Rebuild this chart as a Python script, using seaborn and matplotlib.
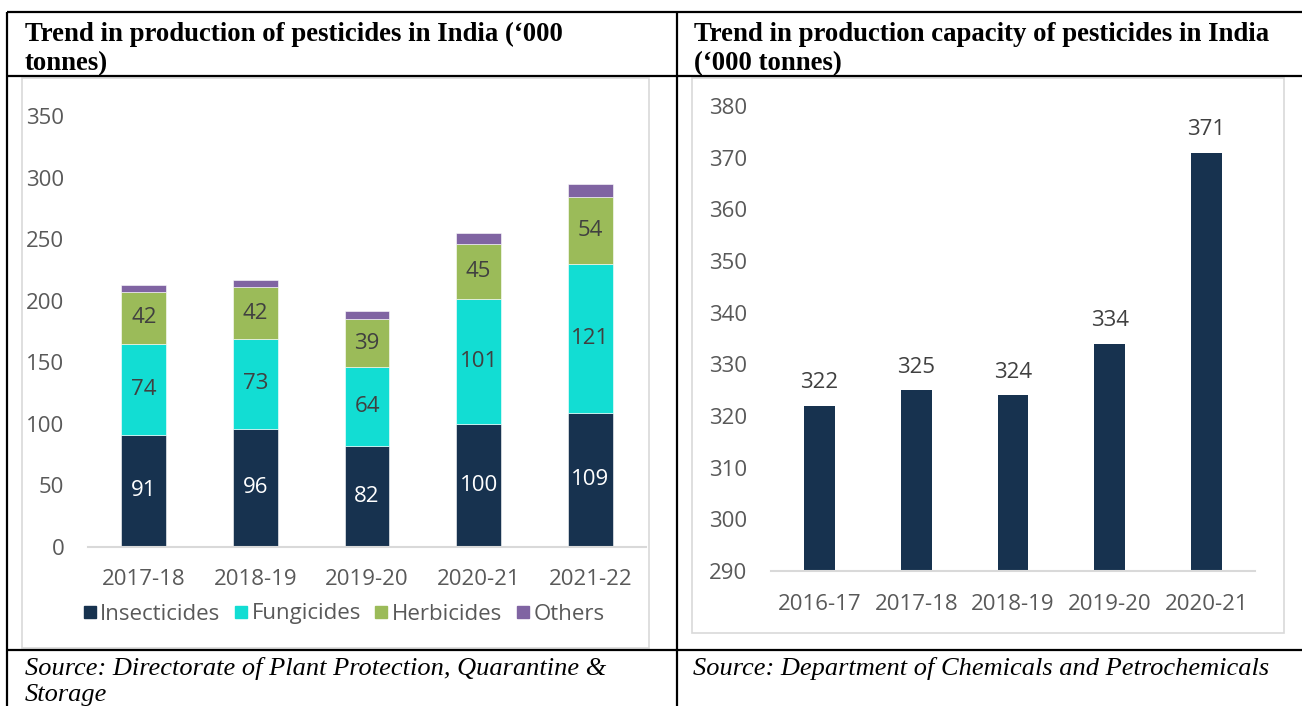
import matplotlib
matplotlib.use("Agg")
import matplotlib.pyplot as plt
import seaborn as sns
import pandas as pd
import numpy as np
from matplotlib.lines import Line2D
from matplotlib.patches import Rectangle

# ---------------- data ----------------
years_prod = ["2017-18", "2018-19", "2019-20", "2020-21", "2021-22"]
insecticides = [91, 96, 82, 100, 109]
fungicides = [74, 73, 64, 101, 121]
herbicides = [42, 42, 39, 45, 54]
others = [6, 6, 7, 9, 11]
series_names = ["Insecticides", "Fungicides", "Herbicides", "Others"]
prod_ticks = [0, 50, 100, 150, 200, 250, 300, 350]

years_cap = ["2016-17", "2017-18", "2018-19", "2019-20", "2020-21"]
capacity = [322, 325, 324, 334, 371]
cap_ticks = [290, 300, 310, 320, 330, 340, 350, 360, 370, 380]

title_left = ["Trend in production of pesticides in India (\u2018000", "tonnes)"]
title_right = ["Trend in production capacity of pesticides in India", "(\u2018000 tonnes)"]
source_left = ["Source: Directorate of Plant Protection, Quarantine &", "Storage"]
source_right = ["Source: Department of Chemicals and Petrochemicals"]

# ---------------- style ----------------
colors = ["#17324F", "#12DDD3", "#9BBB59", "#8064A2"]
label_colors = ["white", "#404040", "#404040", None]
tick_color = "#595959"
axis_color = "#D9D9D9"

sns.set_theme(style="white")
plt.rcParams['font.family'] = ['Open Sans', 'DejaVu Sans']

W, H = 1302, 706
fig = plt.figure(figsize=(W / 100, H / 100), dpi=100)


def fx(px):
    return px / W


def fy(py):
    return 1 - py / H


# ---------------- table frame ----------------
def hline(y, x0, x1):
    fig.add_artist(Line2D([fx(x0), fx(x1)], [fy(y), fy(y)], transform=fig.transFigure,
                          color="black", lw=1.6, solid_capstyle="butt"))


def vline(x, y0, y1):
    fig.add_artist(Line2D([fx(x), fx(x)], [fy(y0), fy(y1)], transform=fig.transFigure,
                          color="black", lw=1.6, solid_capstyle="butt"))


hline(12, 7, 1302)
hline(76, 7, 1302)
hline(650, 7, 1302)
vline(7, 12, 706)
vline(677, 12, 706)

# chart boxes
fig.add_artist(Rectangle((fx(22), fy(648)), fx(649) - fx(22), (648 - 78) / H,
                         transform=fig.transFigure, fill=False, ec=axis_color, lw=1.2))
fig.add_artist(Rectangle((fx(692), fy(633)), fx(1284) - fx(692), (633 - 78) / H,
                         transform=fig.transFigure, fill=False, ec=axis_color, lw=1.2))

# titles & sources
serif = ['Liberation Serif', 'DejaVu Serif']
for i, line in enumerate(title_left):
    fig.text(fx(25), fy([41, 70][i]), line, fontsize=19.3, fontweight="bold",
             family=serif, color="black", va="baseline", ha="left")
for i, line in enumerate(title_right):
    fig.text(fx(694), fy([41, 70][i]), line, fontsize=19.3, fontweight="bold",
             family=serif, color="black", va="baseline", ha="left")
for i, line in enumerate(source_left):
    fig.text(fx(25), fy([675, 701][i]), line, fontsize=19, style="italic",
             family=serif, color="black", va="baseline", ha="left")
for i, line in enumerate(source_right):
    fig.text(fx(693), fy(675), line, fontsize=19, style="italic",
             family=serif, color="black", va="baseline", ha="left")

# ---------------- left chart: stacked bars ----------------
ax1 = fig.add_axes([fx(88), fy(547), fx(646) - fx(88), (547 - 116) / H])
df = pd.DataFrame({"year": years_prod, "Insecticides": insecticides,
                   "Fungicides": fungicides, "Herbicides": herbicides, "Others": others})
bottom = np.zeros(len(years_prod))
for name, col, lc in zip(series_names, colors, label_colors):
    sns.barplot(data=df, x="year", y=name, color=col, saturation=1, width=0.4,
                bottom=bottom.copy(), ax=ax1, edgecolor="white", linewidth=0.4)
    if lc is not None:
        ax1.bar_label(ax1.containers[-1], labels=[str(v) for v in df[name]],
                      label_type="center", color=lc, fontsize=16)
    bottom = bottom + df[name].to_numpy()

ax1.set_xlim(-0.5, len(years_prod) - 0.5)
ax1.set_ylim(prod_ticks[0], prod_ticks[-1])
ax1.set_yticks(prod_ticks)
ax1.set_xlabel("")
ax1.set_ylabel("")
sns.despine(ax=ax1, left=True)
ax1.spines["bottom"].set_color(axis_color)
ax1.spines["bottom"].set_linewidth(1.5)
ax1.tick_params(axis="both", length=0, labelsize=16, labelcolor=tick_color)
ax1.tick_params(axis="y", pad=17)
ax1.tick_params(axis="x", pad=15.5)
ax1.patch.set_alpha(0)

handles = [Line2D([0], [0], marker="s", linestyle="none", markersize=8,
                  markerfacecolor=c, markeredgecolor=c) for c in colors]
fig.legend(handles, series_names, loc="center", bbox_to_anchor=(fx(344), fy(614)),
           ncol=4, frameon=False, fontsize=16, labelcolor=tick_color,
           handlelength=0.55, handletextpad=0.2, columnspacing=0.65, borderpad=0)

# ---------------- right chart: capacity ----------------
ax2 = fig.add_axes([fx(771), fy(571), fx(1255) - fx(771), (571 - 106) / H])
dfc = pd.DataFrame({"year": years_cap, "capacity": capacity})
sns.barplot(data=dfc, x="year", y="capacity", color=colors[0], saturation=1,
            width=0.32, ax=ax2, linewidth=0)
ax2.bar_label(ax2.containers[-1], labels=[str(v) for v in capacity],
              padding=9, color="#404040", fontsize=16)
ax2.set_xlim(-0.5, len(years_cap) - 0.5)
ax2.set_ylim(cap_ticks[0], cap_ticks[-1])
ax2.set_yticks(cap_ticks)
ax2.set_xlabel("")
ax2.set_ylabel("")
sns.despine(ax=ax2, left=True)
ax2.spines["bottom"].set_color(axis_color)
ax2.spines["bottom"].set_linewidth(1.5)
ax2.tick_params(axis="both", length=0, labelsize=16, labelcolor=tick_color)
ax2.tick_params(axis="y", pad=17)
ax2.tick_params(axis="x", pad=16.5)
ax2.patch.set_alpha(0)

fig.savefig("out.png", dpi=100, facecolor="white")
